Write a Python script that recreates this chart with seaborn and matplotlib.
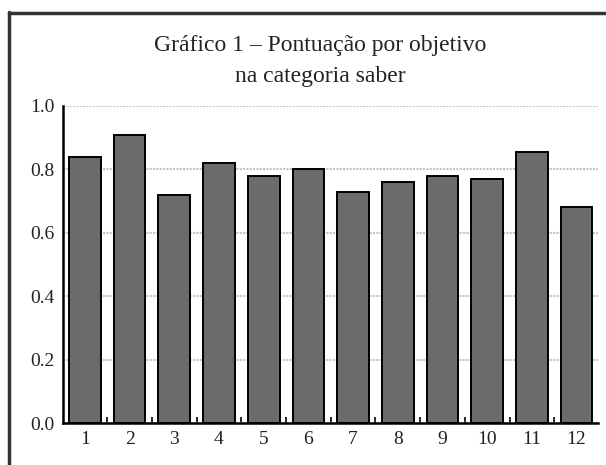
import matplotlib
matplotlib.use("Agg")
import matplotlib.pyplot as plt
import seaborn as sns
import pandas as pd
from matplotlib.lines import Line2D
from matplotlib.ticker import FixedLocator

objetivos = ["1", "2", "3", "4", "5", "6", "7", "8", "9", "10", "11", "12"]
pontuacao = [0.84, 0.91, 0.72, 0.82, 0.78, 0.80, 0.73, 0.76, 0.78, 0.77, 0.855, 0.68]
yticks = [0.0, 0.2, 0.4, 0.6, 0.8, 1.0]
titulo = "Gráfico 1 – Pontuação por objetivo\nna categoria saber"

sns.set_theme(style="white")
plt.rcParams["font.family"] = ["Liberation Serif", "DejaVu Serif"]

df = pd.DataFrame({"objetivo": objetivos, "pontuacao": pontuacao})

fig = plt.figure(figsize=(6.06, 4.65), dpi=100)
ax = fig.add_axes([63/606, 1-423/465, (598-63)/606, (423-106)/465])

sns.barplot(data=df, x="objetivo", y="pontuacao", order=objetivos, color="#6b6b6b",
            saturation=1, edgecolor="black", linewidth=1.4, width=0.71, ax=ax)

ax.set_xlim(-0.49, 11.48)
ax.set_ylim(0, 1.0)
ax.set_yticks(yticks)
ax.set_yticklabels([f"{v:.1f}" for v in yticks])
ax.set_xlabel("")
ax.set_ylabel("")
ax.yaxis.grid(True, color="#c4c4c4", linewidth=1.5, linestyle=(0, (1, 0.6)))
ax.set_axisbelow(True)
for s in ["top", "right"]:
    ax.spines[s].set_visible(False)
for s in ["left", "bottom"]:
    ax.spines[s].set_color("black")
    ax.spines[s].set_linewidth(1.8)
ax.tick_params(axis="y", length=0, pad=6, labelsize=14, colors="#222222")
ax.tick_params(axis="x", length=0, pad=6, labelsize=14, colors="#222222")
ax.xaxis.set_minor_locator(FixedLocator([i + 0.5 for i in range(len(objetivos))]))
ax.tick_params(axis="x", which="minor", direction="in", length=4, width=1.2, color="black", bottom=True)

fig.text(320/606, 1-61/465, titulo, ha="center", va="center", fontsize=17,
         color="#222222", linespacing=1.6)

fig.add_artist(Line2D([9/606, 9/606], [0, 1-12/465], transform=fig.transFigure,
                      color="#333333", linewidth=2.5))
fig.add_artist(Line2D([9/606, 1], [1-13/465, 1-13/465], transform=fig.transFigure,
                      color="#333333", linewidth=2.5))

fig.savefig("out.png", dpi=100)
